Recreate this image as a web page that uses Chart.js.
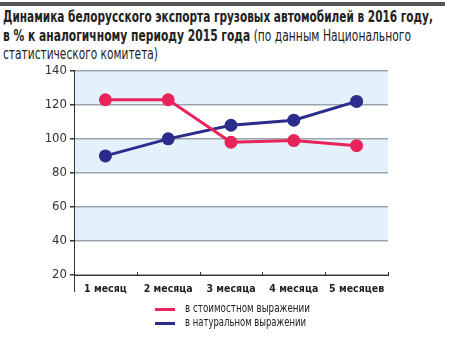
<!DOCTYPE html>
<html>
<head>
<meta charset="utf-8">
<script src="https://cdn.jsdelivr.net/npm/chart.js@4"></script>
<style>
  body { margin: 0; background: #fff; width: 459px; height: 352px; position: relative; overflow: hidden;
         font-family: "DejaVu Sans Condensed", "DejaVu Sans", sans-serif; font-stretch: condensed; color: #222; }
  #bar { position: absolute; left: 0; top: 2px; width: 445px; height: 4px; background: #555; }
  .tl { position: absolute; left: 3px; white-space: nowrap; font-size: 15px; line-height: 18px; transform-origin: 0 0; }
  #wrap { position: absolute; left: 0; top: 60px; width: 459px; height: 245px; }
  .sw { position: absolute; left: 155px; width: 20px; height: 3px; }
  .lt { position: absolute; left: 185px; font-size: 11.5px; color: #222; white-space: nowrap; transform-origin: 0 0; }
</style>
</head>
<body>
<div id="bar"></div>
<div class="tl" id="t1" style="top:8px"><b>Динамика белорусского экспорта грузовых автомобилей в 2016 году,</b></div>
<div class="tl" id="t2" style="top:27px"><b>в % к аналогичному периоду 2015 года</b> (по данным Национального</div>
<div class="tl" id="t3" style="top:45px">статистического комитета)</div>
<div id="wrap"><canvas id="c"></canvas></div>
<div class="sw" style="top:308px;background:#e8245a"></div>
<div class="lt" id="l1" style="top:301px">в стоимостном выражении</div>
<div class="sw" style="top:322px;background:#2b2c8c"></div>
<div class="lt" id="l2" style="top:315px">в натуральном выражении</div>
<script>
const labels = ["1 месяц", "2 месяца", "3 месяца", "4 месяца", "5 месяцев"];
const valueSeries = [123, 123, 98, 99, 96];
const naturalSeries = [90, 100, 108, 111, 122];
const yTicks = [20, 40, 60, 80, 100, 120, 140];

// squeeze text lines to the widths seen in the original
const fit = (id, w) => {
  const el = document.getElementById(id);
  el.style.transform = `scaleX(${w / el.getBoundingClientRect().width})`;
};
fit("t1", 430);
fit("t2", 408);
fit("t3", 155);
fit("l1", 125);
fit("l2", 121);

const bands = {
  id: "bands",
  beforeDraw(chart) {
    const { ctx, chartArea: a, scales: { y } } = chart;
    ctx.save();
    ctx.fillStyle = "#e3f1fb";
    for (let i = yTicks.length - 1; i > 0; i -= 2) {
      const top = y.getPixelForValue(yTicks[i]);
      const bot = y.getPixelForValue(yTicks[i - 1]);
      ctx.fillRect(a.left, top, a.right - a.left, bot - top);
    }
    ctx.restore();
  },
  afterDraw(chart) {
    const { ctx, chartArea: a } = chart;
    ctx.save();
    ctx.strokeStyle = "#333";
    ctx.lineWidth = 1;
    ctx.beginPath();
    ctx.moveTo(a.left + 0.5, a.bottom);
    ctx.lineTo(a.left + 0.5, a.bottom + 17);
    const step = (a.right - a.left) / labels.length;
    for (let i = 1; i <= labels.length; i++) {
      const px = Math.round(a.left + step * i) + 0.5;
      ctx.moveTo(px, a.bottom);
      ctx.lineTo(px, a.bottom - 3);
    }
    ctx.stroke();
    ctx.restore();
  }
};

new Chart(document.getElementById("c"), {
  type: "line",
  data: {
    labels,
    datasets: [
      { data: valueSeries, borderColor: "#e8245a", backgroundColor: "#e8245a", borderWidth: 3,
        pointRadius: 5, pointHoverRadius: 5, tension: 0 },
      { data: naturalSeries, borderColor: "#2b2c8c", backgroundColor: "#2b2c8c", borderWidth: 3,
        pointRadius: 5, pointHoverRadius: 5, tension: 0 }
    ]
  },
  options: {
    responsive: true,
    maintainAspectRatio: false,
    animation: false,
    layout: { padding: { top: 10, right: 71 } },
    plugins: { legend: { display: false }, tooltip: { enabled: false } },
    scales: {
      x: {
        offset: true,
        grid: { display: false },
        border: { color: "#333", width: 1 },
        ticks: { color: "#222", padding: 0, maxRotation: 0, minRotation: 0, autoSkip: false,
                 font: { family: "'DejaVu Sans Condensed', 'DejaVu Sans'", size: 10.5, weight: "bold" } },
        afterFit(s) { s.height = 30; }
      },
      y: {
        min: 20, max: 140,
        afterBuildTicks(s) { s.ticks = yTicks.map(v => ({ value: v })); },
        grid: { color: "#9aa4ad", lineWidth: 1.5, tickLength: 4, tickColor: "#333" },
        border: { color: "#333", width: 1 },
        ticks: { color: "#333", padding: 3,
                 font: { family: "'DejaVu Sans Condensed', 'DejaVu Sans'", size: 13 } },
        afterFit(s) { s.width = 74; }
      }
    }
  },
  plugins: [bands]
});
</script>
</body>
</html>
